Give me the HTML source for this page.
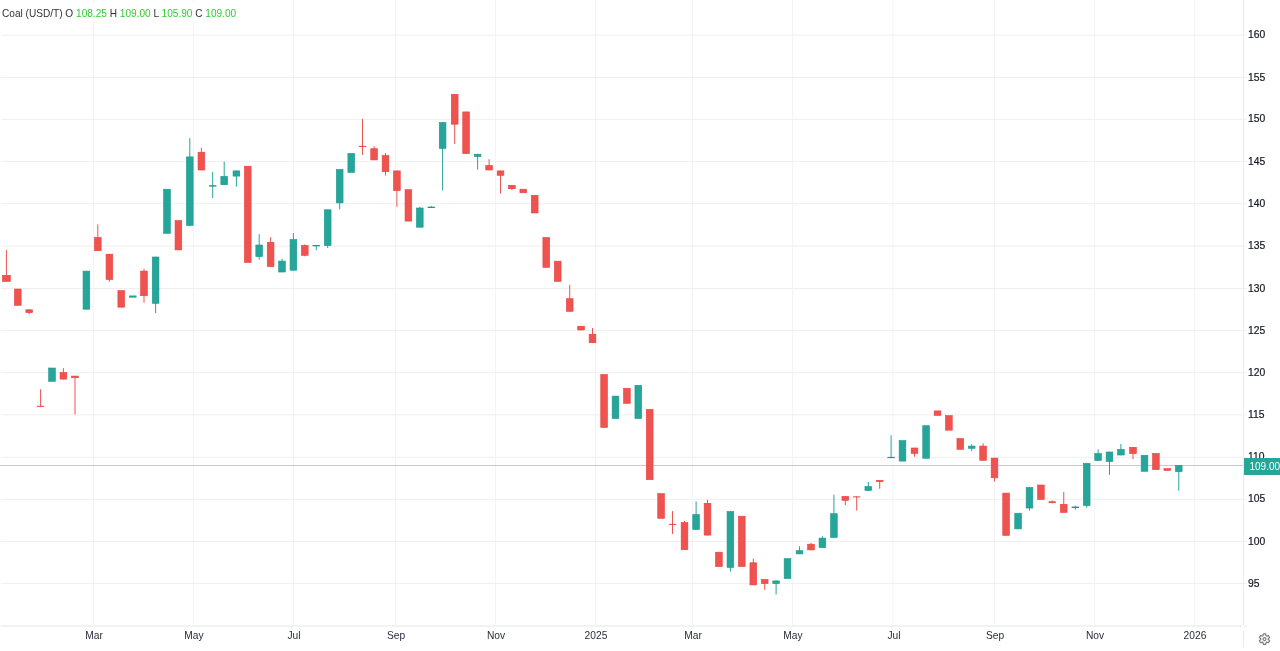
<!DOCTYPE html>
<html><head><meta charset="utf-8"><title>Coal</title>
<style>
html,body{margin:0;padding:0;background:#fff;}
body{width:1280px;height:651px;position:relative;overflow:hidden;font-family:"Liberation Sans",Arial,sans-serif;font-size:11px;color:#333;}
#pane{position:absolute;left:0;top:0;width:1280px;height:625px;overflow:hidden;}
#pane svg{position:absolute;left:0;top:0;}
#legend{position:absolute;left:0;top:3px;padding:4px 6px 2px 2px;background:#fff;font-size:10.1px;line-height:13px;white-space:nowrap;color:#333;}
#legend b{font-weight:normal;color:#32cd32;}
#vb{position:absolute;left:1243px;top:0;width:1px;height:625px;background:#ebebeb;}
#vb2{position:absolute;left:1243px;top:630px;width:1px;height:17px;background:#ebebeb;}
#hb{position:absolute;left:1px;top:625px;width:1241px;height:2px;background:#f2f2f2;}
#hb2{position:absolute;left:1244px;top:625px;width:2.5px;height:2px;background:#f6f6f6;}
.pl{position:absolute;left:1248px;width:32px;height:13px;line-height:13px;text-align:left;color:#131722;-webkit-text-stroke:0.2px #131722;transform:scaleX(0.94);transform-origin:0 0;}
.tk{position:absolute;left:1244px;width:2px;height:1px;background:#f0f0f0;}
.tl{position:absolute;top:629px;width:60px;height:13px;line-height:13px;text-align:center;color:#2a2e39;transform:scaleX(0.93);}
#pline{position:absolute;left:0;top:465px;width:1243px;height:1px;background:rgba(38,166,154,0.4);}
#ptag{position:absolute;left:1244px;top:458px;width:36px;height:17px;background:#26a69a;color:#fff;line-height:18px;text-indent:5.5px;font-size:10px;overflow:hidden;white-space:nowrap;}
#gear{position:absolute;left:0;top:0;pointer-events:none;}
</style></head><body>
<div id="pane">
<svg width="1280" height="625" viewBox="0 0 1280 625">
<rect x="92.90" y="0" width="1" height="625" fill="#f1f4f8"/>
<rect x="193.00" y="0" width="1" height="625" fill="#f1f4f8"/>
<rect x="293.10" y="0" width="1" height="625" fill="#f1f4f8"/>
<rect x="394.90" y="0" width="1" height="625" fill="#f1f4f8"/>
<rect x="495.00" y="0" width="1" height="625" fill="#f1f4f8"/>
<rect x="595.10" y="0" width="1" height="625" fill="#f1f4f8"/>
<rect x="692.00" y="0" width="1" height="625" fill="#f1f4f8"/>
<rect x="792.10" y="0" width="1" height="625" fill="#f1f4f8"/>
<rect x="892.40" y="0" width="1" height="625" fill="#f1f4f8"/>
<rect x="994.00" y="0" width="1" height="625" fill="#f1f4f8"/>
<rect x="1094.10" y="0" width="1" height="625" fill="#f1f4f8"/>
<rect x="1194.20" y="0" width="1" height="625" fill="#f1f4f8"/>
<rect x="1" y="34.60" width="1242" height="1" fill="#efefef"/>
<rect x="1244" y="34.60" width="2.5" height="1" fill="#efefef"/>
<rect x="1" y="76.90" width="1242" height="1" fill="#efefef"/>
<rect x="1244" y="76.90" width="2.5" height="1" fill="#efefef"/>
<rect x="1" y="118.80" width="1242" height="1" fill="#efefef"/>
<rect x="1244" y="118.80" width="2.5" height="1" fill="#efefef"/>
<rect x="1" y="160.90" width="1242" height="1" fill="#efefef"/>
<rect x="1244" y="160.90" width="2.5" height="1" fill="#efefef"/>
<rect x="1" y="203.20" width="1242" height="1" fill="#efefef"/>
<rect x="1244" y="203.20" width="2.5" height="1" fill="#efefef"/>
<rect x="1" y="245.65" width="1242" height="1" fill="#efefef"/>
<rect x="1244" y="245.65" width="2.5" height="1" fill="#efefef"/>
<rect x="1" y="288.00" width="1242" height="1" fill="#efefef"/>
<rect x="1244" y="288.00" width="2.5" height="1" fill="#efefef"/>
<rect x="1" y="329.85" width="1242" height="1" fill="#efefef"/>
<rect x="1244" y="329.85" width="2.5" height="1" fill="#efefef"/>
<rect x="1" y="372.20" width="1242" height="1" fill="#efefef"/>
<rect x="1244" y="372.20" width="2.5" height="1" fill="#efefef"/>
<rect x="1" y="414.40" width="1242" height="1" fill="#efefef"/>
<rect x="1244" y="414.40" width="2.5" height="1" fill="#efefef"/>
<rect x="1" y="456.80" width="1242" height="1" fill="#efefef"/>
<rect x="1244" y="456.80" width="2.5" height="1" fill="#efefef"/>
<rect x="1" y="498.80" width="1242" height="1" fill="#efefef"/>
<rect x="1244" y="498.80" width="2.5" height="1" fill="#efefef"/>
<rect x="1" y="540.90" width="1242" height="1" fill="#efefef"/>
<rect x="1244" y="540.90" width="2.5" height="1" fill="#efefef"/>
<rect x="1" y="583.10" width="1242" height="1" fill="#efefef"/>
<rect x="1244" y="583.10" width="2.5" height="1" fill="#efefef"/>
<rect x="5.90" y="250.00" width="1" height="31.70" fill="#ef5350"/>
<rect x="2.45" y="275.30" width="7.90" height="6.10" fill="#ef5350" stroke="#e9403d" stroke-width="0.6"/>
<rect x="14.45" y="289.05" width="6.70" height="16.25" fill="#ef5350" stroke="#e9403d" stroke-width="0.6"/>
<rect x="28.70" y="309.50" width="1" height="5.00" fill="#ef5350"/>
<rect x="25.85" y="309.80" width="6.70" height="2.90" fill="#ef5350" stroke="#e9403d" stroke-width="0.6"/>
<rect x="40.10" y="389.20" width="1" height="17.60" fill="#ef5350"/>
<rect x="36.95" y="405.80" width="7.3" height="1.00" fill="#e9403d"/>
<rect x="48.65" y="368.00" width="6.70" height="13.30" fill="#26a69a" stroke="#1b988b" stroke-width="0.6"/>
<rect x="62.90" y="368.10" width="1" height="11.30" fill="#ef5350"/>
<rect x="60.05" y="372.60" width="6.70" height="6.50" fill="#ef5350" stroke="#e9403d" stroke-width="0.6"/>
<rect x="74.50" y="375.80" width="1" height="38.70" fill="#ef5350"/>
<rect x="71.65" y="376.10" width="6.70" height="1.60" fill="#ef5350" stroke="#e9403d" stroke-width="0.6"/>
<rect x="83.05" y="271.10" width="6.70" height="38.10" fill="#26a69a" stroke="#1b988b" stroke-width="0.6"/>
<rect x="97.30" y="224.40" width="1" height="26.60" fill="#ef5350"/>
<rect x="94.45" y="237.50" width="6.70" height="13.20" fill="#ef5350" stroke="#e9403d" stroke-width="0.6"/>
<rect x="108.90" y="253.90" width="1" height="27.80" fill="#ef5350"/>
<rect x="106.05" y="254.20" width="6.70" height="25.30" fill="#ef5350" stroke="#e9403d" stroke-width="0.6"/>
<rect x="117.90" y="290.60" width="6.70" height="16.60" fill="#ef5350" stroke="#e9403d" stroke-width="0.6"/>
<rect x="129.45" y="295.90" width="6.70" height="1.30" fill="#26a69a" stroke="#1b988b" stroke-width="0.6"/>
<rect x="143.50" y="268.75" width="1" height="34.05" fill="#ef5350"/>
<rect x="140.65" y="271.10" width="6.70" height="24.60" fill="#ef5350" stroke="#e9403d" stroke-width="0.6"/>
<rect x="155.10" y="256.70" width="1" height="56.30" fill="#26a69a"/>
<rect x="152.25" y="257.00" width="6.70" height="46.30" fill="#26a69a" stroke="#1b988b" stroke-width="0.6"/>
<rect x="163.65" y="189.20" width="6.70" height="44.10" fill="#26a69a" stroke="#1b988b" stroke-width="0.6"/>
<rect x="175.05" y="220.60" width="6.70" height="29.30" fill="#ef5350" stroke="#e9403d" stroke-width="0.6"/>
<rect x="189.30" y="138.10" width="1" height="87.70" fill="#26a69a"/>
<rect x="186.45" y="156.90" width="6.70" height="68.60" fill="#26a69a" stroke="#1b988b" stroke-width="0.6"/>
<rect x="200.90" y="147.70" width="1" height="22.60" fill="#ef5350"/>
<rect x="198.05" y="152.20" width="6.70" height="17.80" fill="#ef5350" stroke="#e9403d" stroke-width="0.6"/>
<rect x="212.20" y="171.90" width="1" height="26.10" fill="#26a69a"/>
<rect x="209.05" y="185.20" width="7.3" height="1.40" fill="#1b988b"/>
<rect x="223.70" y="161.70" width="1" height="23.30" fill="#26a69a"/>
<rect x="220.85" y="176.40" width="6.70" height="8.30" fill="#26a69a" stroke="#1b988b" stroke-width="0.6"/>
<rect x="235.90" y="170.60" width="1" height="16.00" fill="#26a69a"/>
<rect x="233.05" y="170.90" width="6.70" height="5.20" fill="#26a69a" stroke="#1b988b" stroke-width="0.6"/>
<rect x="244.40" y="166.20" width="6.70" height="96.30" fill="#ef5350" stroke="#e9403d" stroke-width="0.6"/>
<rect x="258.70" y="234.10" width="1" height="25.60" fill="#26a69a"/>
<rect x="255.85" y="245.00" width="6.70" height="11.60" fill="#26a69a" stroke="#1b988b" stroke-width="0.6"/>
<rect x="270.10" y="237.20" width="1" height="29.70" fill="#ef5350"/>
<rect x="267.25" y="242.30" width="6.70" height="24.30" fill="#ef5350" stroke="#e9403d" stroke-width="0.6"/>
<rect x="281.50" y="258.75" width="1" height="13.55" fill="#26a69a"/>
<rect x="278.65" y="261.10" width="6.70" height="10.90" fill="#26a69a" stroke="#1b988b" stroke-width="0.6"/>
<rect x="292.90" y="233.00" width="1" height="37.50" fill="#26a69a"/>
<rect x="290.05" y="239.50" width="6.70" height="30.70" fill="#26a69a" stroke="#1b988b" stroke-width="0.6"/>
<rect x="304.30" y="244.40" width="1" height="11.90" fill="#ef5350"/>
<rect x="301.45" y="245.50" width="6.70" height="9.80" fill="#ef5350" stroke="#e9403d" stroke-width="0.6"/>
<rect x="315.75" y="245.00" width="1" height="5.20" fill="#26a69a"/>
<rect x="312.60" y="245.00" width="7.3" height="1.25" fill="#1b988b"/>
<rect x="327.20" y="209.50" width="1" height="38.60" fill="#26a69a"/>
<rect x="324.35" y="209.80" width="6.70" height="35.80" fill="#26a69a" stroke="#1b988b" stroke-width="0.6"/>
<rect x="339.20" y="169.20" width="1" height="40.10" fill="#26a69a"/>
<rect x="336.35" y="169.50" width="6.70" height="33.40" fill="#26a69a" stroke="#1b988b" stroke-width="0.6"/>
<rect x="347.90" y="153.40" width="6.70" height="19.10" fill="#26a69a" stroke="#1b988b" stroke-width="0.6"/>
<rect x="362.00" y="118.90" width="1" height="35.90" fill="#ef5350"/>
<rect x="358.85" y="145.90" width="7.3" height="1.00" fill="#e9403d"/>
<rect x="373.60" y="146.25" width="1" height="13.95" fill="#ef5350"/>
<rect x="370.75" y="148.70" width="6.70" height="11.20" fill="#ef5350" stroke="#e9403d" stroke-width="0.6"/>
<rect x="385.00" y="153.10" width="1" height="22.50" fill="#ef5350"/>
<rect x="382.15" y="155.60" width="6.70" height="16.10" fill="#ef5350" stroke="#e9403d" stroke-width="0.6"/>
<rect x="396.40" y="170.60" width="1" height="36.30" fill="#ef5350"/>
<rect x="393.55" y="170.90" width="6.70" height="19.70" fill="#ef5350" stroke="#e9403d" stroke-width="0.6"/>
<rect x="405.05" y="189.70" width="6.70" height="31.40" fill="#ef5350" stroke="#e9403d" stroke-width="0.6"/>
<rect x="419.30" y="206.70" width="1" height="20.80" fill="#26a69a"/>
<rect x="416.45" y="208.00" width="6.70" height="19.20" fill="#26a69a" stroke="#1b988b" stroke-width="0.6"/>
<rect x="430.75" y="205.90" width="1" height="2.10" fill="#26a69a"/>
<rect x="427.60" y="206.70" width="7.3" height="1.30" fill="#1b988b"/>
<rect x="442.10" y="122.20" width="1" height="68.30" fill="#26a69a"/>
<rect x="439.25" y="122.50" width="6.70" height="25.95" fill="#26a69a" stroke="#1b988b" stroke-width="0.6"/>
<rect x="454.20" y="94.10" width="1" height="50.00" fill="#ef5350"/>
<rect x="451.35" y="94.40" width="6.70" height="29.80" fill="#ef5350" stroke="#e9403d" stroke-width="0.6"/>
<rect x="462.75" y="111.90" width="6.70" height="41.70" fill="#ef5350" stroke="#e9403d" stroke-width="0.6"/>
<rect x="477.10" y="153.90" width="1" height="15.80" fill="#26a69a"/>
<rect x="474.25" y="154.20" width="6.70" height="2.40" fill="#26a69a" stroke="#1b988b" stroke-width="0.6"/>
<rect x="488.60" y="159.20" width="1" height="11.10" fill="#ef5350"/>
<rect x="485.75" y="165.50" width="6.70" height="4.50" fill="#ef5350" stroke="#e9403d" stroke-width="0.6"/>
<rect x="500.00" y="170.60" width="1" height="23.00" fill="#ef5350"/>
<rect x="497.15" y="170.90" width="6.70" height="4.40" fill="#ef5350" stroke="#e9403d" stroke-width="0.6"/>
<rect x="511.40" y="185.00" width="1" height="5.20" fill="#ef5350"/>
<rect x="508.55" y="185.30" width="6.70" height="3.40" fill="#ef5350" stroke="#e9403d" stroke-width="0.6"/>
<rect x="519.95" y="189.20" width="6.70" height="3.60" fill="#ef5350" stroke="#e9403d" stroke-width="0.6"/>
<rect x="531.35" y="195.30" width="6.70" height="17.70" fill="#ef5350" stroke="#e9403d" stroke-width="0.6"/>
<rect x="542.90" y="237.50" width="6.70" height="29.90" fill="#ef5350" stroke="#e9403d" stroke-width="0.6"/>
<rect x="554.35" y="261.20" width="6.70" height="20.20" fill="#ef5350" stroke="#e9403d" stroke-width="0.6"/>
<rect x="569.20" y="284.80" width="1" height="26.80" fill="#ef5350"/>
<rect x="566.35" y="298.70" width="6.70" height="12.60" fill="#ef5350" stroke="#e9403d" stroke-width="0.6"/>
<rect x="577.75" y="326.20" width="6.70" height="3.80" fill="#ef5350" stroke="#e9403d" stroke-width="0.6"/>
<rect x="592.00" y="328.00" width="1" height="15.00" fill="#ef5350"/>
<rect x="589.15" y="334.20" width="6.70" height="8.50" fill="#ef5350" stroke="#e9403d" stroke-width="0.6"/>
<rect x="600.75" y="374.50" width="6.70" height="53.00" fill="#ef5350" stroke="#e9403d" stroke-width="0.6"/>
<rect x="612.15" y="396.10" width="6.70" height="22.50" fill="#26a69a" stroke="#1b988b" stroke-width="0.6"/>
<rect x="623.55" y="388.30" width="6.70" height="15.00" fill="#ef5350" stroke="#e9403d" stroke-width="0.6"/>
<rect x="634.95" y="385.30" width="6.70" height="33.30" fill="#26a69a" stroke="#1b988b" stroke-width="0.6"/>
<rect x="646.35" y="409.40" width="6.70" height="70.30" fill="#ef5350" stroke="#e9403d" stroke-width="0.6"/>
<rect x="657.75" y="493.60" width="6.70" height="24.70" fill="#ef5350" stroke="#e9403d" stroke-width="0.6"/>
<rect x="672.00" y="511.10" width="1" height="22.80" fill="#ef5350"/>
<rect x="668.85" y="523.90" width="7.3" height="1.00" fill="#e9403d"/>
<rect x="684.00" y="521.00" width="1" height="29.00" fill="#ef5350"/>
<rect x="681.15" y="522.50" width="6.70" height="27.20" fill="#ef5350" stroke="#e9403d" stroke-width="0.6"/>
<rect x="695.60" y="501.40" width="1" height="28.40" fill="#26a69a"/>
<rect x="692.75" y="514.50" width="6.70" height="15.00" fill="#26a69a" stroke="#1b988b" stroke-width="0.6"/>
<rect x="707.00" y="499.80" width="1" height="35.60" fill="#ef5350"/>
<rect x="704.15" y="503.30" width="6.70" height="31.80" fill="#ef5350" stroke="#e9403d" stroke-width="0.6"/>
<rect x="715.55" y="552.20" width="6.70" height="14.40" fill="#ef5350" stroke="#e9403d" stroke-width="0.6"/>
<rect x="729.90" y="511.25" width="1" height="60.35" fill="#26a69a"/>
<rect x="727.05" y="511.55" width="6.70" height="55.85" fill="#26a69a" stroke="#1b988b" stroke-width="0.6"/>
<rect x="738.45" y="516.20" width="6.70" height="50.40" fill="#ef5350" stroke="#e9403d" stroke-width="0.6"/>
<rect x="752.80" y="558.60" width="1" height="26.60" fill="#ef5350"/>
<rect x="749.95" y="562.80" width="6.70" height="22.10" fill="#ef5350" stroke="#e9403d" stroke-width="0.6"/>
<rect x="764.20" y="579.20" width="1" height="10.60" fill="#ef5350"/>
<rect x="761.35" y="579.50" width="6.70" height="4.10" fill="#ef5350" stroke="#e9403d" stroke-width="0.6"/>
<rect x="775.60" y="580.60" width="1" height="13.90" fill="#26a69a"/>
<rect x="772.75" y="580.90" width="6.70" height="2.70" fill="#26a69a" stroke="#1b988b" stroke-width="0.6"/>
<rect x="784.15" y="558.60" width="6.70" height="20.00" fill="#26a69a" stroke="#1b988b" stroke-width="0.6"/>
<rect x="799.00" y="546.30" width="1" height="7.90" fill="#26a69a"/>
<rect x="796.15" y="550.70" width="6.70" height="3.20" fill="#26a69a" stroke="#1b988b" stroke-width="0.6"/>
<rect x="810.50" y="542.80" width="1" height="7.40" fill="#ef5350"/>
<rect x="807.65" y="544.20" width="6.70" height="5.70" fill="#ef5350" stroke="#e9403d" stroke-width="0.6"/>
<rect x="821.90" y="536.25" width="1" height="11.75" fill="#26a69a"/>
<rect x="819.05" y="538.10" width="6.70" height="9.60" fill="#26a69a" stroke="#1b988b" stroke-width="0.6"/>
<rect x="833.40" y="494.70" width="1" height="43.10" fill="#26a69a"/>
<rect x="830.55" y="513.70" width="6.70" height="23.80" fill="#26a69a" stroke="#1b988b" stroke-width="0.6"/>
<rect x="844.80" y="496.10" width="1" height="9.10" fill="#ef5350"/>
<rect x="841.95" y="496.40" width="6.70" height="3.90" fill="#ef5350" stroke="#e9403d" stroke-width="0.6"/>
<rect x="856.20" y="496.40" width="1" height="14.20" fill="#ef5350"/>
<rect x="853.05" y="496.40" width="7.3" height="1.00" fill="#e9403d"/>
<rect x="867.80" y="482.00" width="1" height="8.80" fill="#26a69a"/>
<rect x="864.95" y="486.55" width="6.70" height="3.95" fill="#26a69a" stroke="#1b988b" stroke-width="0.6"/>
<rect x="879.20" y="480.00" width="1" height="8.75" fill="#ef5350"/>
<rect x="876.35" y="480.30" width="6.70" height="1.40" fill="#ef5350" stroke="#e9403d" stroke-width="0.6"/>
<rect x="890.60" y="435.30" width="1" height="22.80" fill="#26a69a"/>
<rect x="887.45" y="456.90" width="7.3" height="1.20" fill="#1b988b"/>
<rect x="899.15" y="440.60" width="6.70" height="20.50" fill="#26a69a" stroke="#1b988b" stroke-width="0.6"/>
<rect x="914.00" y="447.70" width="1" height="9.00" fill="#ef5350"/>
<rect x="911.15" y="448.00" width="6.70" height="5.30" fill="#ef5350" stroke="#e9403d" stroke-width="0.6"/>
<rect x="922.75" y="425.70" width="6.70" height="32.60" fill="#26a69a" stroke="#1b988b" stroke-width="0.6"/>
<rect x="934.15" y="410.90" width="6.70" height="4.50" fill="#ef5350" stroke="#e9403d" stroke-width="0.6"/>
<rect x="945.55" y="415.60" width="6.70" height="14.60" fill="#ef5350" stroke="#e9403d" stroke-width="0.6"/>
<rect x="956.95" y="438.50" width="6.70" height="10.90" fill="#ef5350" stroke="#e9403d" stroke-width="0.6"/>
<rect x="971.20" y="444.20" width="1" height="7.05" fill="#26a69a"/>
<rect x="968.35" y="446.10" width="6.70" height="2.20" fill="#26a69a" stroke="#1b988b" stroke-width="0.6"/>
<rect x="982.60" y="443.40" width="1" height="17.20" fill="#ef5350"/>
<rect x="979.75" y="446.10" width="6.70" height="14.20" fill="#ef5350" stroke="#e9403d" stroke-width="0.6"/>
<rect x="994.00" y="457.80" width="1" height="23.70" fill="#ef5350"/>
<rect x="991.15" y="458.10" width="6.70" height="19.70" fill="#ef5350" stroke="#e9403d" stroke-width="0.6"/>
<rect x="1002.75" y="493.10" width="6.70" height="42.35" fill="#ef5350" stroke="#e9403d" stroke-width="0.6"/>
<rect x="1014.75" y="513.20" width="6.70" height="15.70" fill="#26a69a" stroke="#1b988b" stroke-width="0.6"/>
<rect x="1029.00" y="487.20" width="1" height="23.40" fill="#26a69a"/>
<rect x="1026.15" y="487.50" width="6.70" height="20.55" fill="#26a69a" stroke="#1b988b" stroke-width="0.6"/>
<rect x="1037.55" y="485.00" width="6.70" height="14.40" fill="#ef5350" stroke="#e9403d" stroke-width="0.6"/>
<rect x="1051.80" y="500.60" width="1" height="2.50" fill="#ef5350"/>
<rect x="1048.95" y="501.70" width="6.70" height="1.10" fill="#ef5350" stroke="#e9403d" stroke-width="0.6"/>
<rect x="1063.25" y="492.00" width="1" height="20.70" fill="#ef5350"/>
<rect x="1060.40" y="504.30" width="6.70" height="8.10" fill="#ef5350" stroke="#e9403d" stroke-width="0.6"/>
<rect x="1074.80" y="505.60" width="1" height="4.10" fill="#26a69a"/>
<rect x="1071.65" y="506.60" width="7.3" height="1.40" fill="#1b988b"/>
<rect x="1086.20" y="463.10" width="1" height="44.60" fill="#26a69a"/>
<rect x="1083.35" y="463.40" width="6.70" height="42.10" fill="#26a69a" stroke="#1b988b" stroke-width="0.6"/>
<rect x="1097.60" y="449.40" width="1" height="11.40" fill="#26a69a"/>
<rect x="1094.75" y="453.60" width="6.70" height="6.90" fill="#26a69a" stroke="#1b988b" stroke-width="0.6"/>
<rect x="1109.00" y="451.70" width="1" height="23.10" fill="#26a69a"/>
<rect x="1106.15" y="452.00" width="6.70" height="9.60" fill="#26a69a" stroke="#1b988b" stroke-width="0.6"/>
<rect x="1120.40" y="444.00" width="1" height="11.30" fill="#26a69a"/>
<rect x="1117.55" y="449.40" width="6.70" height="5.60" fill="#26a69a" stroke="#1b988b" stroke-width="0.6"/>
<rect x="1132.50" y="447.00" width="1" height="12.20" fill="#ef5350"/>
<rect x="1129.65" y="447.30" width="6.70" height="6.30" fill="#ef5350" stroke="#e9403d" stroke-width="0.6"/>
<rect x="1141.15" y="455.30" width="6.70" height="16.00" fill="#26a69a" stroke="#1b988b" stroke-width="0.6"/>
<rect x="1152.55" y="453.40" width="6.70" height="16.30" fill="#ef5350" stroke="#e9403d" stroke-width="0.6"/>
<rect x="1163.95" y="468.60" width="6.70" height="1.90" fill="#ef5350" stroke="#e9403d" stroke-width="0.6"/>
<rect x="1178.25" y="465.00" width="1" height="25.80" fill="#26a69a"/>
<rect x="1175.40" y="465.30" width="6.70" height="6.40" fill="#26a69a" stroke="#1b988b" stroke-width="0.6"/>
</svg>
<div id="pline"></div>
</div>
<div id="legend">Coal (USD/T) O <b>108.25</b> H <b>109.00</b> L <b>105.90</b> C <b>109.00</b></div>
<div id="vb"></div><div id="vb2"></div><div id="hb"></div><div id="hb2"></div>

<div class="pl" style="top:28px">160</div><div class="pl" style="top:71px">155</div><div class="pl" style="top:112px">150</div><div class="pl" style="top:155px">145</div><div class="pl" style="top:197px">140</div><div class="pl" style="top:239px">135</div><div class="pl" style="top:282px">130</div><div class="pl" style="top:324px">125</div><div class="pl" style="top:366px">120</div><div class="pl" style="top:408px">115</div><div class="pl" style="top:450px">110</div><div class="pl" style="top:492px">105</div><div class="pl" style="top:535px">100</div><div class="pl" style="top:577px">95</div>
<div id="ptag">109.00</div>
<div class="tl" style="left:64.1px">Mar</div><div class="tl" style="left:164.2px">May</div><div class="tl" style="left:264.3px">Jul</div><div class="tl" style="left:366.1px">Sep</div><div class="tl" style="left:466.2px">Nov</div><div class="tl" style="left:566.3px">2025</div><div class="tl" style="left:663.2px">Mar</div><div class="tl" style="left:763.3px">May</div><div class="tl" style="left:863.6px">Jul</div><div class="tl" style="left:965.2px">Sep</div><div class="tl" style="left:1065.3px">Nov</div><div class="tl" style="left:1165.4px">2026</div>
<svg id="gear" width="1280" height="651" viewBox="0 0 1280 651" fill="none" stroke="#7a7a7a" stroke-width="1.15" stroke-linejoin="round">
<path d="M1266.00 635.72 L1265.70 633.89 L1263.30 633.89 L1263.00 635.72 L1262.33 636.11 L1260.59 635.45 L1259.38 637.54 L1260.82 638.71 L1260.82 639.49 L1259.38 640.66 L1260.59 642.75 L1262.33 642.09 L1263.00 642.48 L1263.30 644.31 L1265.70 644.31 L1266.00 642.48 L1266.67 642.09 L1268.41 642.75 L1269.62 640.66 L1268.18 639.49 L1268.18 638.71 L1269.62 637.54 L1268.41 635.45 L1266.67 636.11 Z"/>
<circle cx="1264.5" cy="639.1" r="1.45"/>
</svg>
</body></html>
